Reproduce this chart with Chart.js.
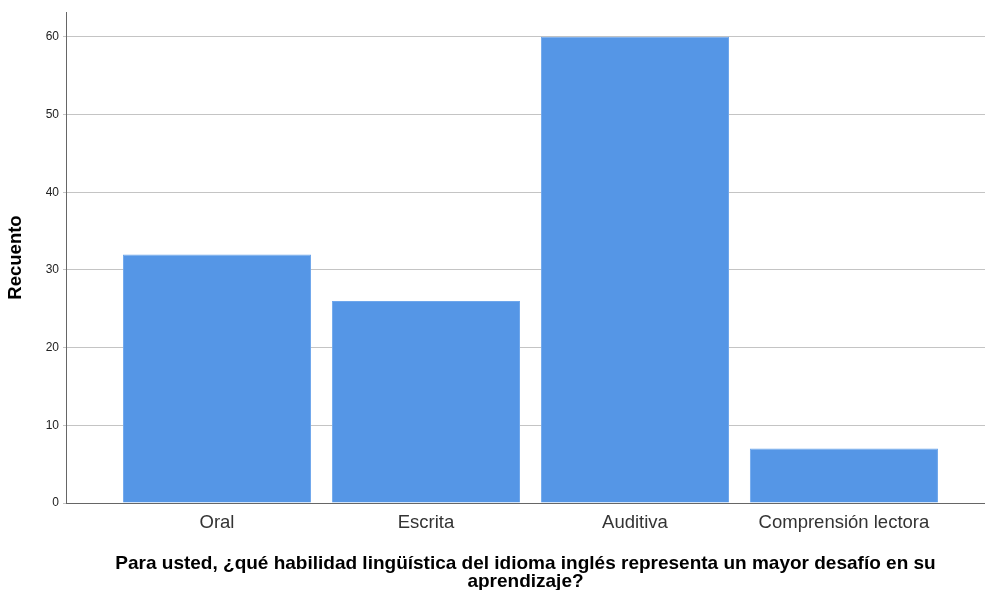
<!DOCTYPE html>
<html>
<head>
<meta charset="utf-8">
<script src="https://cdn.jsdelivr.net/npm/chart.js@4"></script>
<style>
  html, body { margin: 0; padding: 0; background: #fff; }
  #wrap { width: 985px; height: 590px; }
</style>
</head>
<body>
<div id="wrap"><canvas id="chart"></canvas></div>
<script>
const categories = ['Oral', 'Escrita', 'Auditiva', 'Comprensión lectora'];
const counts = [32, 26, 60, 7];
const yTicks = [0, 10, 20, 30, 40, 50, 60];

const points = categories.map((c, i) => ({ x: i, y: counts[i] }));

const ctx = document.getElementById('chart').getContext('2d');
new Chart(ctx, {
  type: 'bar',
  data: {
    datasets: [{
      data: points,
      backgroundColor: '#5596e6',
      borderColor: '#6fa7ec',
      borderWidth: 1,
      barPercentage: 1,
      categoryPercentage: 0.9
    }]
  },
  options: {
    responsive: true,
    maintainAspectRatio: false,
    animation: false,
    layout: { padding: { top: 12, right: 0, left: 0, bottom: 0 } },
    plugins: { legend: { display: false }, tooltip: { enabled: false } },
    scales: {
      x: {
        type: 'linear',
        offset: false,
        min: -0.7225,
        max: 3.675,
        afterBuildTicks: scale => { scale.ticks = categories.map((c, i) => ({ value: i })); },
        afterFit: scale => { scale.height = 87; },
        ticks: {
          callback: v => categories[v],
          font: { family: 'Liberation Sans', size: 18.5 },
          color: '#333',
          padding: 1,
          maxRotation: 0
        },
        grid: { display: false },
        border: { display: true, color: '#666', width: 1 },
        title: {
          display: true,
          text: ['Para usted, ¿qué habilidad lingüística del idioma inglés representa un mayor desafío en su', 'aprendizaje?'],
          font: { family: 'Liberation Sans', size: 19, weight: 'bold', lineHeight: 0.95 },
          color: '#000',
          padding: { top: 17, bottom: -1 }
        }
      },
      y: {
        min: 0,
        max: 63.2,
        afterBuildTicks: scale => { scale.ticks = yTicks.map(v => ({ value: v })); },
        afterFit: scale => { scale.width = 66; },
        ticks: {
          font: { family: 'Liberation Sans', size: 12 },
          color: '#222',
          padding: 4
        },
        grid: { color: '#c4c4c4', lineWidth: 1, tickLength: 3 },
        border: { display: true, color: '#666', width: 1 },
        title: {
          display: true,
          text: 'Recuento',
          font: { family: 'Liberation Sans', size: 18.5, weight: 'bold' },
          color: '#000',
          padding: { top: 5, bottom: 0 }
        }
      }
    }
  }
});
</script>
</body>
</html>
